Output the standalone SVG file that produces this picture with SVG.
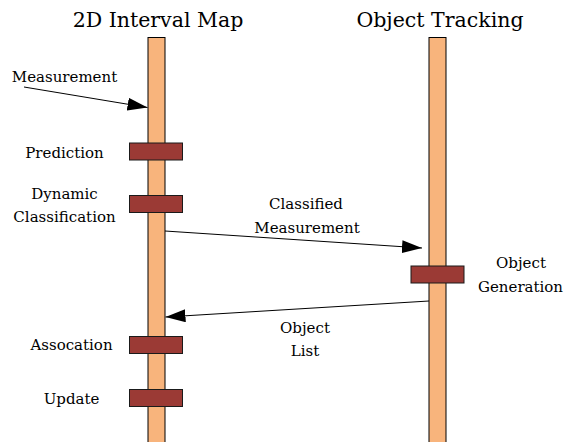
<svg xmlns="http://www.w3.org/2000/svg" width="565" height="442" viewBox="0 0 565 442">
<style>
text{font-family:"DejaVu Serif","Liberation Serif",serif;fill:#000}
.h{font-size:20.5px}
.l{font-size:15px}
.bar{fill:#f8b47c;stroke:#000;stroke-width:1}
.box{fill:#9b3a35;stroke:#1a1a1a;stroke-width:1}
.c{stroke:#000;stroke-width:1;fill:none}
</style>
<defs>
<marker id="ah" markerWidth="20" markerHeight="13" refX="20" refY="6.5" orient="auto" markerUnits="userSpaceOnUse">
<path d="M0,0 L20,6.5 L0,13 Z" fill="#000"/>
</marker>
</defs>
<rect width="565" height="442" fill="#fff"/>
<g id="lane-map">
<rect class="bar" x="148" y="37.5" width="17" height="410"/>
<text class="h" x="158" y="27" text-anchor="middle">2D Interval Map</text>
</g>
<g id="lane-tracking">
<rect class="bar" x="429" y="37.5" width="17" height="410"/>
<text class="h" x="440" y="27" text-anchor="middle">Object Tracking</text>
</g>
<g id="prediction">
<rect class="box" x="129.5" y="143" width="53" height="17"/>
<text class="l" x="64.5" y="157.5" text-anchor="middle">Prediction</text>
</g>
<g id="dynamic-classification">
<rect class="box" x="129.5" y="195.5" width="53" height="17"/>
<text class="l" x="64.5" y="199" text-anchor="middle">Dynamic</text>
<text class="l" x="64.5" y="222" text-anchor="middle">Classification</text>
</g>
<g id="object-generation">
<rect class="box" x="411" y="266" width="53" height="17"/>
<text class="l" x="521" y="268" text-anchor="middle">Object</text>
<text class="l" x="520.5" y="292" text-anchor="middle">Generation</text>
</g>
<g id="assocation">
<rect class="box" x="129.5" y="336.5" width="53" height="17"/>
<text class="l" x="71.5" y="350" text-anchor="middle">Assocation</text>
</g>
<g id="update">
<rect class="box" x="129.5" y="389.5" width="53" height="17"/>
<text class="l" x="71.5" y="403.5" text-anchor="middle">Update</text>
</g>
<g id="connectors">
<line class="c" x1="24" y1="87" x2="147.5" y2="107.5" marker-end="url(#ah)"/>
<text class="l" x="64.5" y="82" text-anchor="middle">Measurement</text>
<line class="c" x1="165" y1="231" x2="422" y2="248" marker-end="url(#ah)"/>
<text class="l" x="306" y="209" text-anchor="middle">Classified</text>
<text class="l" x="307" y="232.5" text-anchor="middle">Measurement</text>
<line class="c" x1="429" y1="301" x2="165.5" y2="317" marker-end="url(#ah)"/>
<text class="l" x="305" y="332.5" text-anchor="middle">Object</text>
<text class="l" x="305" y="355.5" text-anchor="middle">List</text>
</g>
</svg>
